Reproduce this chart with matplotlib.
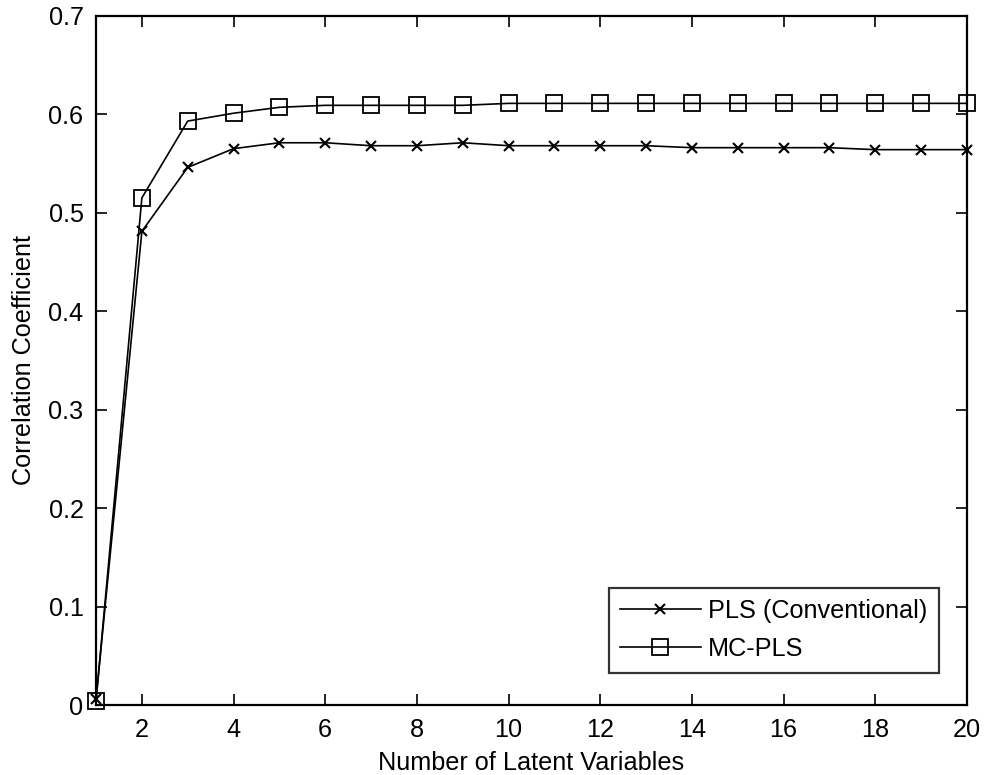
import matplotlib
matplotlib.use("Agg")
import matplotlib.pyplot as plt

# Correlation coefficient vs. number of latent variables
n_lv = list(range(1, 21))
pls_conventional = [0.006, 0.481, 0.546, 0.565, 0.571, 0.571, 0.568, 0.568, 0.571, 0.568,
                    0.568, 0.568, 0.568, 0.566, 0.566, 0.566, 0.566, 0.564, 0.564, 0.564]
mc_pls = [0.004, 0.515, 0.593, 0.601, 0.607, 0.609, 0.609, 0.609, 0.609, 0.611,
          0.611, 0.611, 0.611, 0.611, 0.611, 0.611, 0.611, 0.611, 0.611, 0.611]
series_labels = ["PLS (Conventional)", "MC-PLS"]
x_ticks = list(range(2, 21, 2))
y_ticks = [0, 0.1, 0.2, 0.3, 0.4, 0.5, 0.6, 0.7]
y_ticklabels = ["0", "0.1", "0.2", "0.3", "0.4", "0.5", "0.6", "0.7"]

FS = 18.2
plt.rcParams["font.family"] = ["Liberation Sans", "DejaVu Sans"]
plt.rcParams["font.size"] = FS

fig = plt.figure(figsize=(9.84, 7.75), dpi=100)
ax = fig.add_axes([0.0976, 0.0903, 0.8851, 0.8894])

ax.plot(n_lv, pls_conventional, color="black", lw=1.2, marker="x",
        markersize=7.5, markeredgewidth=1.5, label=series_labels[0],
        clip_on=False, zorder=3)
ax.plot(n_lv, mc_pls, color="black", lw=1.2, marker="s", markersize=12,
        markerfacecolor="none", markeredgewidth=1.3, label=series_labels[1],
        clip_on=False, zorder=3)

ax.set_xlim(1, 20)
ax.set_ylim(0, 0.7)
ax.set_xticks(x_ticks)
ax.set_yticks(y_ticks)
ax.set_yticklabels(y_ticklabels)
ax.tick_params(direction="in", length=8, width=1.2, top=True, right=True,
               labelsize=FS, pad=9)
for s in ax.spines.values():
    s.set_linewidth(1.6)

ax.set_xlabel("Number of Latent Variables", fontsize=FS, labelpad=7)
ax.set_ylabel("Correlation Coefficient", fontsize=FS, labelpad=9)

leg = ax.legend(loc="lower right", bbox_to_anchor=(0.968, 0.047),
                frameon=True, fancybox=False, edgecolor="black",
                handlelength=3.2, handletextpad=0.3, borderpad=0.45,
                labelspacing=0.56, borderaxespad=0, fontsize=FS)
leg.get_frame().set_linewidth(1.6)
leg.set_zorder(5)

fig.savefig("out.png", dpi=100, facecolor="white")
